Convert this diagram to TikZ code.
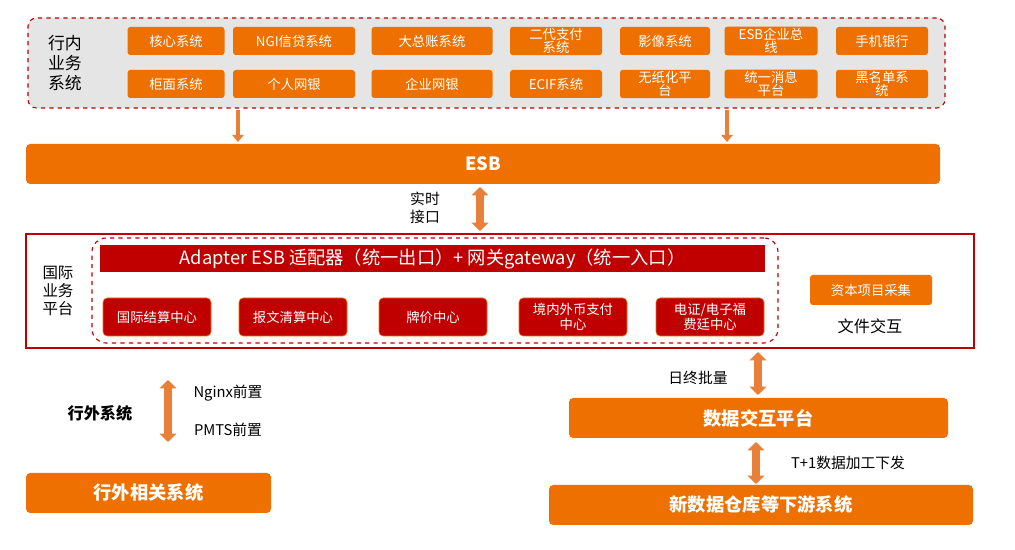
\documentclass[tikz,border=0pt]{standalone}
\usepackage{fontspec}
\setmainfont{Noto Sans CJK SC}
\usetikzlibrary{arrows.meta}
\definecolor{esbor}{HTML}{EE7000}
\definecolor{esbred}{HTML}{C00000}
\definecolor{arr}{HTML}{E8803A}
\begin{document}
\begin{tikzpicture}[x=0.025cm,y=-0.025cm,
		btn/.style={fill=esbor, rounded corners=2pt, text=white, font=\fontsize{9.5}{9.5}\selectfont, align=center, minimum height=28*0.025cm, inner sep=1pt},
		redbtn/.style={fill=esbred, draw=esbor, rounded corners=3pt, text=white, font=\fontsize{9.5}{10.5}\selectfont, align=center, minimum width=108*0.025cm, minimum height=38*0.025cm, inner sep=1pt},
		bar/.style={fill=esbor, rounded corners=3pt, text=white, font=\bfseries\fontsize{13}{15}\selectfont, inner sep=0pt},
		lbl/.style={font=\fontsize{10.5}{12.5}\selectfont, align=center},
		fat/.style={arr, line width=6pt, {Triangle[width=12pt,length=6pt]}-{Triangle[width=12pt,length=6pt]}},
		down/.style={arr, line width=3pt, -{Triangle[width=8pt,length=5pt]}}]
		\useasboundingbox (0,0) rectangle (1015,550);
		% inner systems
		\node[draw=esbred, dashed, thick, fill=gray!20, rounded corners=6pt, minimum width=917*0.025cm, minimum height=90*0.025cm] (inner) at (486.5,63) {};
		\node[lbl, font=\fontsize{12}{14}\selectfont] (innerlbl) at (65,63) {行内\\业务\\系统};
		\foreach \x/\w/\a/\b [count=\i] in {176/97/核心系统/柜面系统, 294/122/NGI信贷系统/个人网银, 432/121/大总账系统/企业网银, 556/92/二代支付\\系统/ECIF系统, 665/90/影像系统/无纸化平\\台, 771/93/ESB企业总\\线/统一消息\\平台, 882/92/手机银行/黑名单系\\统}{
		  \node[btn, minimum width=\w*0.025cm] (top\i) at (\x,41) {\a};
		  \node[btn, minimum width=\w*0.025cm] (bot\i) at (\x,84) {\b};
		}
		\node[bar, minimum width=914*0.025cm, minimum height=40*0.025cm] (esb) at (483,164) {ESB};
		\coordinate (dl) at (238,110);
		\coordinate (dr) at (727,110);
		\draw[down] (dl) -- (238,142);
		\draw[down] (dr) -- (727,142);
		% international platform
		\node[draw=esbred, thick, minimum width=948*0.025cm, minimum height=114*0.025cm] (intl) at (500,291) {};
		\node[lbl, font=\fontsize{11}{13}\selectfont] (intllbl) at (58,291) {国际\\业务\\平台};
		\node[draw=esbred, dashed, thick, rounded corners=10pt, minimum width=686*0.025cm, minimum height=105*0.025cm] (core) at (435,290.5) {};
		\node[fill=esbred, text=white, font=\fontsize{13}{15}\selectfont, minimum width=665*0.025cm, minimum height=27*0.025cm, inner sep=0pt] (adapter) at (432.5,258.5) {Adapter ESB 适配器（统一出口）+ 网关gateway（统一入口）};
		\foreach \x/\t [count=\i] in {157/国际结算中心, 293/报文清算中心, 433/牌价中心, 573/境内外币支付\\中心, 710/{电证/电子福\\费廷中心}}{
		  \node[redbtn] (c\i) at (\x,317) {\t};
		}
		\node[btn, minimum width=122*0.025cm, minimum height=30*0.025cm] (capital) at (871,290) {资本项目采集};
		\node[lbl, font=\fontsize{11.5}{13}\selectfont] (file) at (870,326) {文件交互};
		\draw[fat] (480,187) -- (480,231);
		\node[lbl] (rt) at (425,208) {实时\\接口};
		% data exchange
		\node[bar, minimum width=379*0.025cm, minimum height=40*0.025cm] (dx) at (758.5,418) {数据交互平台};
		\node[bar, minimum width=424*0.025cm, minimum height=40*0.025cm] (dw) at (761,505) {新数据仓库等下游系统};
		\draw[fat] (758,352) -- (758,395);
		\node[lbl] (batch) at (698,378) {日终批量};
		\draw[fat] (756,442) -- (756,484);
		\node[lbl] (t1) at (848,463) {T+1数据加工下发};
		% outside
		\node[lbl, font=\bfseries\fontsize{11.5}{13}\selectfont] (out) at (100,413) {行外系统};
		\node[bar, minimum width=245*0.025cm, minimum height=40*0.025cm] (outrel) at (148.5,493) {行外相关系统};
		\draw[fat] (168,380) -- (168,442);
		\node[lbl] (nginx) at (228,393) {Nginx前置};
		\node[lbl] (pmts) at (228,430) {PMTS前置};
	\end{tikzpicture}
\end{document}
